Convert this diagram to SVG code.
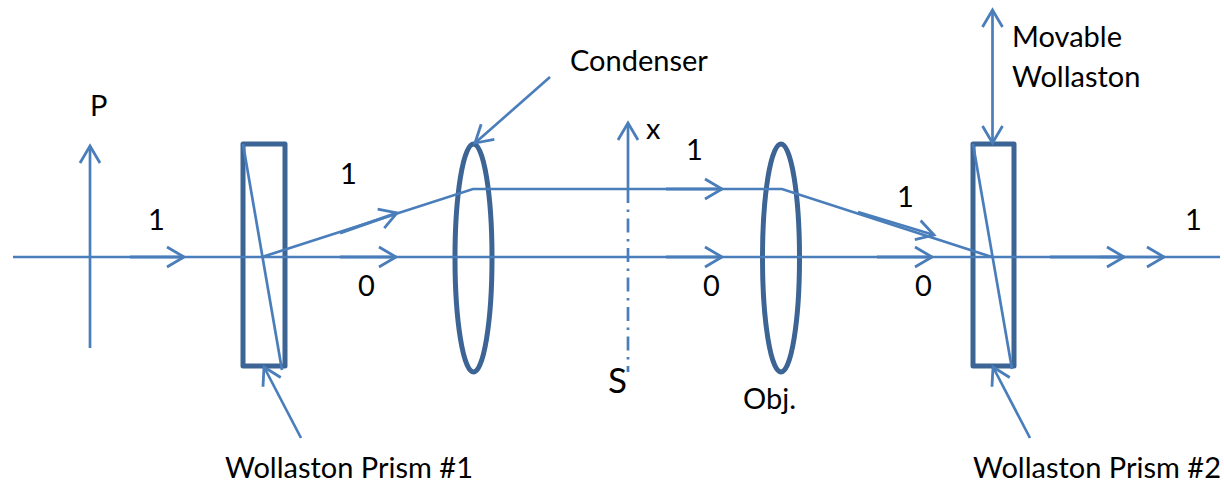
<svg xmlns="http://www.w3.org/2000/svg" width="1224" height="482" viewBox="0 0 1224 482">
<style>
.c{fill:none;stroke:#4a7ebb;stroke-width:2.7}
.a{marker-end:url(#h)}
.t{fill:none;stroke:#4a7ebb;stroke-width:3.2}
.p{fill:none;stroke:#3c6494;stroke-width:5;stroke-linejoin:round}
text{font-family:"Lato","Open Sans",sans-serif;font-size:29px;fill:#000}
</style>
<defs>
<marker id="h" markerUnits="userSpaceOnUse" markerWidth="24" markerHeight="26" refX="20" refY="12" orient="auto" overflow="visible"><path d="M3,2 L20,12 L3,22" fill="none" stroke="#4a7ebb" stroke-width="2.8"/></marker>
<marker id="hs" markerUnits="userSpaceOnUse" markerWidth="24" markerHeight="26" refX="20" refY="12" orient="auto-start-reverse" overflow="visible"><path d="M3,2 L20,12 L3,22" fill="none" stroke="#4a7ebb" stroke-width="2.8"/></marker>
</defs>
<g id="prism1"><rect class="p" x="243" y="144" width="42" height="222"/></g>
<g id="condenser"><ellipse class="p" cx="473.5" cy="258" rx="18.5" ry="114"/></g>
<g id="objective"><ellipse class="p" cx="781" cy="258" rx="18.5" ry="114"/></g>
<g id="prism2"><rect class="p" x="973" y="144" width="41" height="222"/></g>
<g id="connectors">
<line class="c" x1="13" y1="257" x2="1220" y2="257"/>
<line class="c a" x1="90" y1="348" x2="90" y2="146"/>
<line class="c" x1="243" y1="144" x2="282" y2="370"/>
<line class="c" x1="973" y1="144" x2="1012" y2="369"/>
<polyline class="c" points="262,257 473,189 782,189 992,257"/>
<line class="t a" x1="130" y1="257" x2="184" y2="257"/>
<line class="t a" x1="340" y1="233" x2="397" y2="213"/>
<line class="t a" x1="340" y1="257" x2="396" y2="257"/>
<line class="t a" x1="666" y1="189" x2="722" y2="189"/>
<line class="t a" x1="666" y1="257" x2="722" y2="257"/>
<line class="c a" x1="858" y1="212" x2="934" y2="235"/>
<line class="t a" x1="877" y1="257" x2="932" y2="257"/>
<line class="t a" x1="1050" y1="257" x2="1124" y2="257"/>
<line class="c a" x1="1100" y1="257" x2="1164" y2="257"/>
<line class="c a" x1="628" y1="189" x2="628" y2="123"/>
<line class="c" x1="628" y1="189" x2="628" y2="372" stroke-dasharray="14,6.5,2.5,6.5"/>
<line class="c a" x1="550" y1="77" x2="475" y2="143"/>
<line class="c a" x1="301" y1="438" x2="264" y2="367"/>
<line class="c a" x1="1030" y1="438" x2="993" y2="367"/>
<line class="c" x1="992.5" y1="10" x2="992.5" y2="143" marker-start="url(#hs)" marker-end="url(#h)"/>
</g>
<g id="labels">
<text x="90" y="116">P</text>
<text x="148" y="230">1</text>
<text x="340" y="184">1</text>
<text x="358" y="296">0</text>
<text x="570" y="71">Condenser</text>
<text x="646" y="139">x</text>
<text x="686" y="160">1</text>
<text x="703" y="296">0</text>
<text x="608" y="393" style="font-size:35px">S</text>
<text x="743" y="409">Obj.</text>
<text x="897" y="207">1</text>
<text x="915" y="296">0</text>
<text x="1012" y="47">Movable</text>
<text x="1012" y="87">Wollaston</text>
<text x="1185" y="230">1</text>
<text x="225" y="478">Wollaston Prism #1</text>
<text x="973" y="478">Wollaston Prism #2</text>
</g>
</svg>
